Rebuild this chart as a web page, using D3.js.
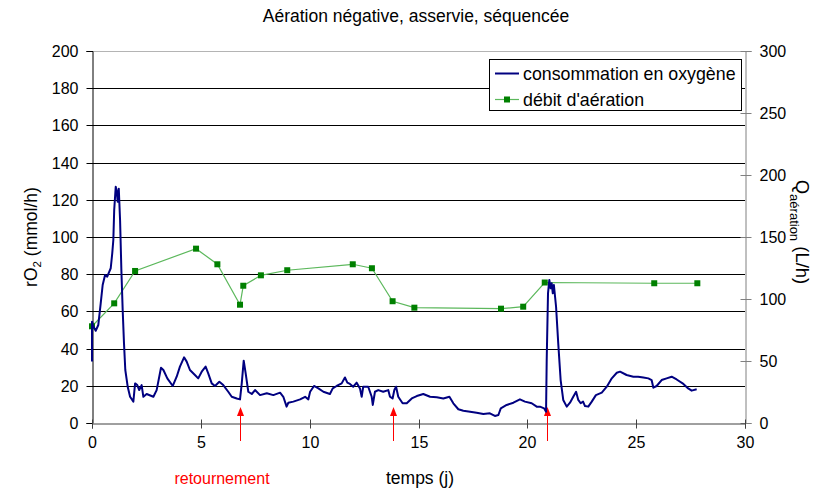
<!DOCTYPE html>
<html>
<head>
<meta charset="utf-8">
<script src="https://cdn.jsdelivr.net/npm/d3@7"></script>
<style>
  html, body { margin: 0; padding: 0; background: #fff; }
  svg { display: block; font-family: "Liberation Sans", Arial, sans-serif; }
</style>
</head>
<body>
<svg id="chart" width="832" height="491"></svg>
<script>
// Consommation en oxygène (rO2, mmol/h) en fonction du temps (jours)
const tempsO2 = [
  0.00, 0.00, 0.06, 0.17, 0.29, 0.40, 0.49, 0.60, 0.70, 0.79, 0.86, 0.93, 0.98, 1.02, 1.09, 1.13,
  1.18, 1.23, 1.29, 1.35, 1.41, 1.47, 1.53, 1.64, 1.75, 1.90, 1.98, 2.08, 2.17, 2.28, 2.36, 2.51,
  2.82, 2.97, 3.17, 3.28, 3.46, 3.71, 3.89, 4.04, 4.23, 4.35, 4.50, 4.73, 4.88, 5.04, 5.22, 5.34,
  5.50, 5.65, 5.85, 6.03, 6.26, 6.42, 6.65, 6.80, 6.88, 6.97, 7.06, 7.18, 7.34, 7.49, 7.72, 8.03,
  8.33, 8.64, 8.79, 8.94, 9.02, 9.25, 9.56, 9.79, 9.94, 10.02, 10.20, 10.40, 10.63, 10.93, 11.06, 11.24,
  11.47, 11.62, 11.73, 11.85, 12.00, 12.16, 12.31, 12.39, 12.46, 12.69, 12.85, 12.90, 13.00, 13.15, 13.38, 13.61,
  13.69, 13.81, 13.89, 13.97, 14.07, 14.27, 14.46, 14.69, 14.92, 15.22, 15.53, 15.84, 16.14, 16.42, 16.60, 16.83,
  17.06, 17.37, 17.67, 17.98, 18.28, 18.51, 18.67, 18.78, 19.05, 19.36, 19.66, 19.89, 20.20, 20.43, 20.58, 20.77,
  20.86, 20.89, 20.95, 21.01, 21.07, 21.12, 21.17, 21.22, 21.32, 21.42, 21.53, 21.65, 21.81, 21.96, 22.11, 22.24,
  22.34, 22.45, 22.56, 22.65, 22.80, 22.96, 23.15, 23.42, 23.65, 23.88, 24.11, 24.26, 24.56, 24.87, 25.09, 25.33,
  25.56, 25.71, 25.79, 25.94, 26.17, 26.40, 26.63, 26.86, 27.17, 27.39, 27.55, 27.78
];
const rO2 = [
  33, 54.5, 52, 49.6, 52.7, 64.3, 74.2, 79.6, 78.7, 81.3, 83.2, 91.2, 98.4, 114.5, 127, 125,
  119, 126, 109, 82, 60.7, 42.8, 28.5, 19.5, 14.1, 11.5, 21.3, 20.4, 17.7, 20.4, 14.1, 15.6,
  14.1, 17.7, 29.7, 28.5, 24, 19.9, 24.9, 30.3, 35.3, 33, 28.5, 25.8, 24, 27.6, 30.3, 26.7,
  21.3, 19.9, 22.2, 20.4, 16.8, 14.1, 13.2, 12.7, 21.3, 33.5, 26.7, 16.8, 15.6, 17.7, 15, 16,
  15, 16.3, 14.1, 8.8, 10.9, 11.5, 12.7, 14.1, 12.7, 16.8, 19.9, 18.6, 16.8, 15.6, 18.6, 19.9,
  21.3, 24.5, 21.7, 21, 19.5, 21.7, 18.6, 14.1, 19.5, 19.5, 14.1, 9.7, 16.8, 17.7, 16.8, 17.7,
  14.1, 13.2, 17.7, 19.5, 14.1, 10.6, 10.6, 13.2, 14.5, 15.6, 14.1, 13.8, 13.2, 14.1, 10.6, 7.4,
  6.6, 6.1, 5.5, 4.8, 5.2, 3.8, 4.3, 7.9, 9.7, 10.9, 12.7, 11.5, 10.6, 8.8, 8.8, 7.9,
  6.1, 33.9, 69.7, 76.9, 72.4, 75.1, 69.7, 74.2, 62.5, 42.8, 23.1, 12.4, 8.8, 10.9, 14.1, 16.8,
  12.4, 10.6, 11.5, 9.1, 8.8, 11.5, 15, 16.3, 19.5, 24, 27, 27.6, 25.8, 24.9, 24.9, 24.5,
  24, 23.1, 19, 19.9, 23.1, 24, 24.9, 23.4, 21, 18.6, 17.4, 18.1
];

// Débit d'aération (L/h, axe de droite)
const tempsDebit = [0.00, 1.02, 1.98, 4.78, 5.76, 6.80, 6.95, 7.76, 8.97, 11.98, 12.86, 13.81, 14.81, 18.79, 19.81, 20.80, 25.83, 27.81];
const debit = [78, 96.5, 122.6, 140.6, 128, 95.4, 110.7, 119.1, 123.2, 128, 124.8, 98.2, 93, 92.2, 93.8, 113.3, 112.7, 112.7];

// Jours de retournement du tas (flèches rouges)
const joursRetournement = [6.8, 13.85, 20.9];

// Graduations
const ticksX = [0, 5, 10, 15, 20, 25, 30];
const ticksGauche = [0, 20, 40, 60, 80, 100, 120, 140, 160, 180, 200];
const ticksDroite = [0, 50, 100, 150, 200, 250, 300];

const titre = "Aération négative, asservie, séquencée";
const legende = ["consommation en oxygène", "débit d'aération"];

const svg = d3.select("#chart");
const zone = { left: 92, right: 745, top: 51, bottom: 423 };

const x = d3.scaleLinear().domain([0, 30]).range([zone.left, zone.right]);
const yG = d3.scaleLinear().domain([0, 200]).range([zone.bottom, zone.top]);
const yD = d3.scaleLinear().domain([0, 300]).range([zone.bottom, zone.top]);

// Titre
svg.append("text")
  .attr("x", 416).attr("y", 22)
  .attr("text-anchor", "middle")
  .style("font-size", "17.5px")
  .text(titre);

// Quadrillage horizontal
svg.append("g")
  .selectAll("line")
  .data(ticksGauche.filter(d => d > 0))
  .join("line")
  .attr("x1", zone.left).attr("x2", zone.right)
  .attr("y1", d => Math.round(yG(d)) + 0.5).attr("y2", d => Math.round(yG(d)) + 0.5)
  .attr("stroke", d => d === 200 ? "#b4b4b4" : "#000")
  .attr("stroke-width", 1);

// Axe gauche
const axeG = svg.append("g")
  .attr("transform", `translate(${zone.left + 0.5},0)`)
  .call(d3.axisLeft(yG).tickValues(ticksGauche).tickSize(6).tickPadding(8));
axeG.select(".domain").attr("stroke", "#000");
axeG.selectAll(".tick line").attr("stroke", "#000");
axeG.selectAll(".tick text").style("font-size", "16px").attr("fill", "#000");
axeG.selectAll(".tick").attr("transform", d => `translate(0,${Math.round(yG(d)) + 0.5})`);

// Axe droit
const axeD = svg.append("g")
  .attr("transform", `translate(${zone.right + 0.5},0)`)
  .call(d3.axisRight(yD).tickValues(ticksDroite).tickSize(6).tickPadding(8));
axeD.select(".domain").attr("stroke", "#808080");
axeD.selectAll(".tick line").attr("stroke", "#808080").attr("x1", -5);
axeD.selectAll(".tick text").style("font-size", "16px").attr("fill", "#000");
axeD.selectAll(".tick").attr("transform", d => `translate(0,${Math.round(yD(d)) + 0.5})`);

// Axe du temps
const axeX = svg.append("g")
  .attr("transform", `translate(0,${zone.bottom + 0.5})`)
  .call(d3.axisBottom(x).tickValues(ticksX).tickSize(5).tickPadding(8));
axeX.select(".domain").attr("stroke", "#404040");
axeX.selectAll(".tick line").attr("stroke", "#404040").attr("y1", -4);
axeX.selectAll(".tick text").style("font-size", "16px").attr("fill", "#000");
axeX.selectAll(".tick").attr("transform", d => `translate(${Math.round(x(d)) + 0.5},0)`);

// Titre de l'axe gauche : rO2 (mmol/h)
const titreG = svg.append("text")
  .attr("transform", `translate(37,${(zone.top + zone.bottom) / 2}) rotate(-90)`)
  .attr("text-anchor", "middle")
  .style("font-size", "17.5px");
titreG.append("tspan").text("rO");
titreG.append("tspan").attr("dy", 4).style("font-size", "11.5px").text("2");
titreG.append("tspan").attr("dy", -4).text(" (mmol/h)");

// Titre de l'axe droit : Q aération (L/h)
const titreD = svg.append("text")
  .attr("transform", `translate(796,${(zone.top + zone.bottom) / 2 - 5}) rotate(90)`)
  .attr("text-anchor", "middle")
  .style("font-size", "18.5px");
titreD.append("tspan").text("Q");
titreD.append("tspan").attr("dy", 6).style("font-size", "13px").text("aération");
titreD.append("tspan").attr("dy", -6).text("  (L/h)");

// Titre de l'axe du temps
svg.append("text")
  .attr("x", 420).attr("y", 484)
  .attr("text-anchor", "middle")
  .style("font-size", "17.5px")
  .text("temps (j)");

svg.append("text")
  .attr("x", 222).attr("y", 484)
  .attr("text-anchor", "middle")
  .attr("fill", "#ff0000")
  .style("font-size", "16px")
  .text("retournement");

// Flèches de retournement
const fleches = svg.append("g").attr("fill", "#ff0000").attr("stroke", "#ff0000");
joursRetournement.forEach(j => {
  const px = Math.round(x(j)) + 0.5;
  fleches.append("line")
    .attr("x1", px).attr("x2", px)
    .attr("y1", 441).attr("y2", 414)
    .attr("stroke-width", 1);
  fleches.append("path")
    .attr("stroke", "none")
    .attr("d", `M${px},407 L${px - 3.5},416 L${px + 3.5},416 Z`);
});

// Débit d'aération (vert)
const ligneDebit = d3.line()
  .x((d, i) => x(tempsDebit[i]))
  .y(d => yD(d));
svg.append("path")
  .datum(debit)
  .attr("fill", "none")
  .attr("stroke", "#5cb85c")
  .attr("stroke-width", 1.2)
  .attr("d", ligneDebit);
svg.append("g")
  .selectAll("rect")
  .data(debit)
  .join("rect")
  .attr("x", (d, i) => x(tempsDebit[i]) - 3)
  .attr("y", d => yD(d) - 3)
  .attr("width", 6).attr("height", 6)
  .attr("fill", "#008000");

// Consommation en oxygène (bleu)
const ligneO2 = d3.line()
  .x((d, i) => x(tempsO2[i]))
  .y(d => yG(d));
svg.append("path")
  .datum(rO2)
  .attr("fill", "none")
  .attr("stroke", "#000080")
  .attr("stroke-width", 2)
  .attr("stroke-linejoin", "round")
  .attr("d", ligneO2);

// Légende
const leg = svg.append("g");
leg.append("rect")
  .attr("x", 489.5).attr("y", 59.5)
  .attr("width", 252).attr("height", 51)
  .attr("fill", "#fff").attr("stroke", "#000");
leg.append("line")
  .attr("x1", 495).attr("x2", 519).attr("y1", 73.5).attr("y2", 73.5)
  .attr("stroke", "#000080").attr("stroke-width", 2);
leg.append("line")
  .attr("x1", 495).attr("x2", 519).attr("y1", 99.5).attr("y2", 99.5)
  .attr("stroke", "#5cb85c").attr("stroke-width", 1.2);
leg.append("rect")
  .attr("x", 504).attr("y", 96.5).attr("width", 6).attr("height", 6)
  .attr("fill", "#008000");
leg.selectAll("text.leg")
  .data(legende)
  .join("text")
  .attr("class", "leg")
  .attr("x", 523)
  .attr("y", (d, i) => 79.5 + i * 26)
  .style("font-size", "17.8px")
  .text(d => d);
</script>
</body>
</html>
